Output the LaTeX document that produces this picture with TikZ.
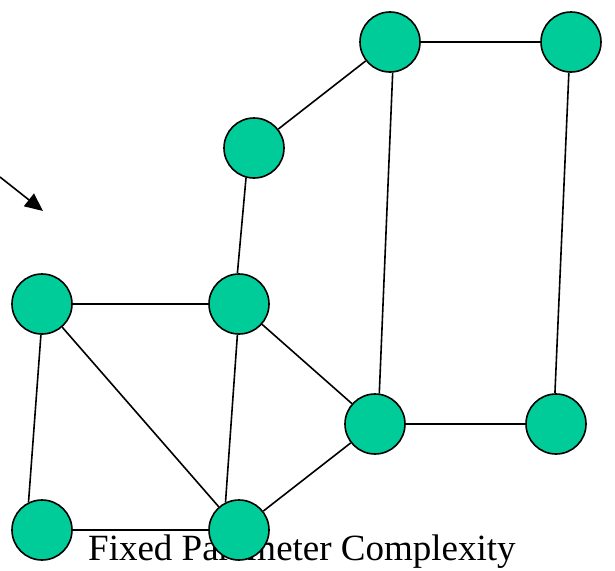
\documentclass[tikz,border=0pt]{standalone}
\usepackage{fontspec}
\setmainfont{Liberation Serif}
\usetikzlibrary{arrows.meta,backgrounds}
\begin{document}
\begin{tikzpicture}[x=1pt,y=-1pt,
  edge/.style={line width=1.6pt}]
\definecolor{vgreen}{RGB}{0,204,153}
\tikzset{vtx/.style={circle,draw=black,fill=vgreen,line width=1.6pt,minimum size=60pt,inner sep=0pt}}
\useasboundingbox (0,0) rectangle (615,570);
\begin{pgfonlayer}{background}
\node[anchor=base west,font=\fontsize{37}{40}\selectfont,inner sep=0pt] (title) at (88,560) {Fixed Parameter Complexity};
\end{pgfonlayer}
\node[vtx] (nA) at (390,42) {};
\node[vtx] (nB) at (571,42) {};
\node[vtx] (nC) at (254,148) {};
\node[vtx] (nD) at (42,304) {};
\node[vtx] (nE) at (239,304) {};
\node[vtx] (nF) at (375,424) {};
\node[vtx] (nG) at (556,424) {};
\node[vtx] (nH) at (42,530) {};
\node[vtx] (nI) at (239,530) {};
\begin{pgfonlayer}{background}
\draw[edge] (nA)--(nB) (nA)--(nC) (nA.275)--(nF.82) (nB.266)--(nG.92) (nC.255)--(nE.93)
  (nD)--(nE) (nD.268)--(nH.116) (nD)--(nI)
  (nE.267)--(nI.116) (nE)--(nF) (nF)--(nG) (nF)--(nI) (nH)--(nI);
\end{pgfonlayer}
\coordinate (s) at (0,177);
\coordinate (t) at (43,211);
\draw[edge,-{Triangle[length=18pt,width=16pt]}] (s)--(t);
\end{tikzpicture}
\end{document}
